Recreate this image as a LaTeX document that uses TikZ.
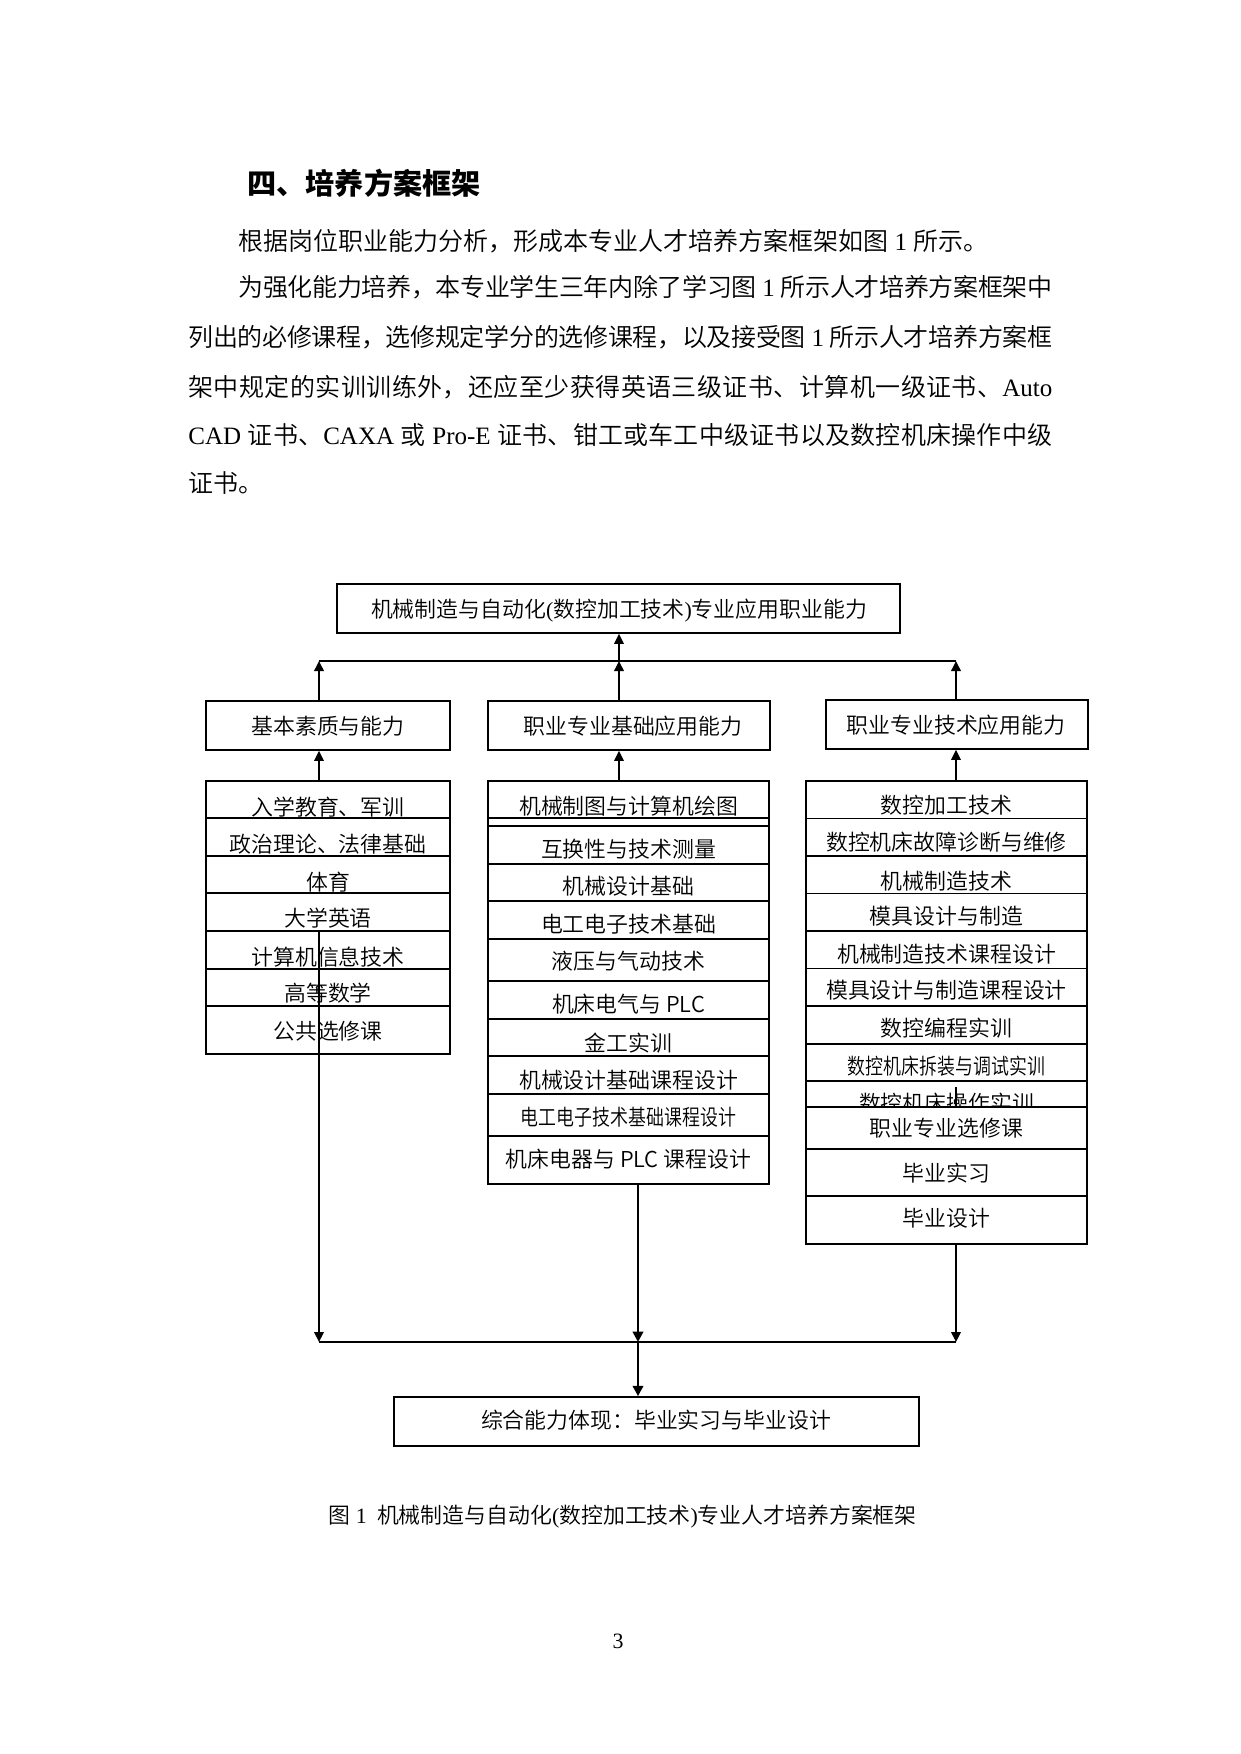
\documentclass[tikz,border=0pt]{standalone}
\usepackage{fontspec}
\usepackage{graphicx}
\IfFontExistsTF{Noto Sans CJK SC DemiLight}{\setmainfont{Noto Sans CJK SC DemiLight}}{\setmainfont{Noto Sans CJK SC}}
\newfontfamily\hdf{Noto Sans CJK SC}
\newfontfamily\latf{Liberation Serif}
\newcommand\la[1]{{\latf #1}}
\usetikzlibrary{arrows.meta}
% stretchable glue between CJK characters (for justified lines)
\XeTeXinterchartokenstate=1
\newXeTeXintercharclass\cjkcls
\newcount\cjkcnt
\cjkcnt="3000 \loop \XeTeXcharclass\cjkcnt=\cjkcls \advance\cjkcnt 1 \ifnum\cjkcnt<"3040 \repeat
\cjkcnt="4E00 \loop \XeTeXcharclass\cjkcnt=\cjkcls \advance\cjkcnt 1 \ifnum\cjkcnt<"A000 \repeat
\cjkcnt="FF00 \loop \XeTeXcharclass\cjkcnt=\cjkcls \advance\cjkcnt 1 \ifnum\cjkcnt<"FFF0 \repeat
\XeTeXinterchartoks\cjkcls\cjkcls={\hskip0pt plus 1pt minus 0.6pt\relax}
\newcommand\mkcell[6]{\node[#6, minimum width={(#4-#2)*0.48pt}, minimum height={(#5-#3)*0.48pt}] (#1) at ({(#2+#4)/2},{(#3+#5)/2}) {};}
\tikzset{
  cell/.style={draw, line width=0.8pt, inner sep=0pt},
  whitecell/.style={cell, fill=white},
  dtext/.style={font=\fontsize{10.5}{12}\selectfont, inner sep=0pt},
  bodytext/.style={font=\fontsize{12}{14}\selectfont, inner sep=0pt, anchor=west},
  arr/.style={line width=0.8pt, -{Triangle[length=4.8pt,width=4.6pt]}},
  thickarr/.style={line width=1.4pt, -{Triangle[length=5pt,width=5pt]}},
  conn/.style={line width=0.7pt},
}
\begin{document}
\begin{tikzpicture}[x=0.48pt,y=-0.48pt]
\fill[white] (0,0) rectangle (1241,1754);
\useasboundingbox (0,0) rectangle (1241,1754);

% ---------- text above ----------
\node[bodytext, font=\fontsize{14}{16}\selectfont\hdf\bfseries] (head) at (247,183) {四、培养方案框架};
\node[bodytext] (p1) at (238,241) {根据岗位职业能力分析，形成本专业人才培养方案框架如图\la{ 1 }所示。};
\node[bodytext] (p2) at (238,287) {\makebox[390.7pt][s]{为强化能力培养，本专业学生三年内除了学习图\la{ 1 }所示人才培养方案框架中}};
\node[bodytext] (p3) at (188,337) {\makebox[414.7pt][s]{列出的必修课程，选修规定学分的选修课程，以及接受图\la{ 1 }所示人才培养方案框}};
\node[bodytext] (p4) at (188,387) {\makebox[414.7pt][s]{架中规定的实训训练外，还应至少获得英语三级证书、计算机一级证书、\la{Auto}}};
\node[bodytext] (p5) at (188,435) {\makebox[414.7pt][s]{\la{CAD }证书、\la{CAXA }或\la{ Pro-E }证书、钳工或车工中级证书以及数控机床操作中级}};
\node[bodytext] (p6) at (188,483) {证书。};

% ---------- top box and title boxes ----------
\mkcell{top}{337}{584}{900}{633}{cell}
\node[dtext] (topt) at (619,611) {机械制造与自动化\la{(}数控加工技术\la{)}专业应用职业能力};

\mkcell{b1}{206}{701}{450}{750}{cell}
\node[dtext] (b1t) at (328,726) {基本素质与能力};
\mkcell{b2}{488}{701}{770}{750}{cell}
\node[dtext] (b2t) at (633,726) {职业专业基础应用能力};
\mkcell{b3}{826}{700}{1088}{749}{cell}
\node[dtext] (b3t) at (956,725) {职业专业技术应用能力};

% ---------- left list ----------
\mkcell{L1}{206}{781}{450}{818.3}{cell}
\mkcell{L2}{206}{818.3}{450}{855.7}{cell}
\mkcell{L3}{206}{855.7}{450}{893.3}{cell}
\mkcell{L4}{206}{893.3}{450}{931}{cell}
\mkcell{L5}{206}{931}{450}{968.7}{cell}
\mkcell{L6}{206}{968.7}{450}{1006}{cell}
\mkcell{L7}{206}{1006}{450}{1054.3}{cell}
\node[dtext] (L1t) at (328,806.7) {入学教育、军训};
\node[dtext] (L2t) at (328,844) {政治理论、法律基础};
\node[dtext] (L3t) at (328,881.7) {体育};
\node[dtext] (L4t) at (328,918.3) {大学英语};
\node[dtext] (L5t) at (328,956.7) {计算机信息技术};
\node[dtext] (L6t) at (328,993.3) {高等数学};
\node[dtext] (L7t) at (328,1031) {公共选修课};

% ---------- middle list ----------
\mkcell{Mbox}{488}{781}{769}{1184.3}{cell}
\mkcell{M1}{488}{781}{769}{818.3}{cell}
\mkcell{M2}{488}{825.7}{769}{864}{cell}
\mkcell{M3}{488}{864}{769}{901}{cell}
\mkcell{M4}{488}{901}{769}{938.7}{cell}
\mkcell{M5}{488}{938.7}{769}{980.7}{cell}
\mkcell{M6}{488}{980.7}{769}{1019}{cell}
\mkcell{M7}{488}{1019}{769}{1056}{cell}
\mkcell{M8}{488}{1056}{769}{1094.3}{cell}
\mkcell{M9}{488}{1094.3}{769}{1135.7}{cell}
\mkcell{M10}{488}{1135.7}{769}{1184.3}{cell}
\node[dtext] (M1t) at (628.5,806) {机械制图与计算机绘图};
\node[dtext] (M2t) at (628.5,849.3) {互换性与技术测量};
\node[dtext] (M3t) at (628.5,886) {机械设计基础};
\node[dtext] (M4t) at (628.5,924) {电工电子技术基础};
\node[dtext] (M5t) at (628.5,960.7) {液压与气动技术};
\node[dtext] (M6t) at (628.5,1004) {机床电气与 PLC};
\node[dtext] (M7t) at (628.5,1042.7) {金工实训};
\node[dtext] (M8t) at (628.5,1080) {机械设计基础课程设计};
\node[dtext] (M9t) at (628.5,1116.7) {\scalebox{0.82}[1]{电工电子技术基础课程设计}};
\node[dtext] (M10t) at (628.5,1159.3) {机床电器与 PLC 课程设计};

% ---------- right list ----------
\mkcell{R1}{806}{781}{1087}{818.6}{cell}
\mkcell{R2}{806}{818.6}{1087}{855.7}{cell}
\mkcell{R3}{806}{855.7}{1087}{893.6}{cell}
\mkcell{R4}{806}{893.6}{1087}{930.7}{cell}
\mkcell{R5}{806}{930.7}{1087}{968.6}{cell}
\mkcell{R6}{806}{968.6}{1087}{1005.7}{cell}
\mkcell{R7}{806}{1005.7}{1087}{1044.3}{cell}
\mkcell{R8}{806}{1044.3}{1087}{1080.7}{cell}
\mkcell{R9}{806}{1080.7}{1087}{1120}{cell}
\node[dtext] (R1t) at (946.5,805) {数控加工技术};
\node[dtext] (R2t) at (946.5,842.5) {数控机床故障诊断与维修};
\node[dtext] (R3t) at (946.5,880.7) {机械制造技术};
\node[dtext] (R4t) at (946.5,916.4) {模具设计与制造};
\node[dtext] (R5t) at (946.5,954.3) {机械制造技术课程设计};
\node[dtext] (R6t) at (946.5,990) {模具设计与制造课程设计};
\node[dtext] (R7t) at (946.5,1028) {数控编程实训};
\node[dtext] (R8t) at (946.5,1065.7) {\scalebox{0.82}[1]{数控机床拆装与调试实训}};
\node[dtext] (R9t) at (946.5,1103) {数控机床操作实训};

% ---------- bottom box ----------
\mkcell{bot}{394}{1397}{919}{1446}{cell}
\node[dtext] (bott) at (656,1420) {综合能力体现：毕业实习与毕业设计};

% ---------- connectors ----------
\coordinate (hL) at (319,661);
\coordinate (hM) at (619,661);
\coordinate (hR) at (956,661);
\coordinate (gL) at (319,1342);
\coordinate (gM) at (638,1342);
\coordinate (gR) at (956,1342);
\coordinate (rs) at (956,1087);

\draw[conn] (hL) -- (hR);
\draw[arr] (b1.north -| hL) -- (hL);
\draw[arr] (b2.north -| hM) -- (hM);
\draw[arr] (b3.north -| hR) -- (hR);
\draw[arr] (hM) -- (top.south -| hM);
\draw[arr] (L1.north -| hL) -- (b1.south -| hL);
\draw[arr] (M1.north -| hM) -- (b2.south -| hM);
\draw[arr] (R1.north -| hR) -- (b3.south -| hR);

\draw[conn] (gL) -- (gR);
\draw[arr] (L5.north -| gL) -- (gL);
\draw[thickarr] (M10.south -| gM) -- (gM);
\draw[thickarr] (gM) -- (bot.north -| gM);
\draw[arr] (rs) -- (gR);

% ---------- right list, lower part (white, covering) ----------
\mkcell{R10}{806}{1106.8}{1087}{1149}{whitecell}
\mkcell{R11}{806}{1149}{1087}{1196}{whitecell}
\mkcell{R12}{806}{1196}{1087}{1244.3}{whitecell}
\node[dtext] (R10t) at (946.5,1128) {职业专业选修课};
\node[dtext] (R11t) at (946.5,1173) {毕业实习};
\node[dtext] (R12t) at (946.5,1218) {毕业设计};

% ---------- caption and page number ----------
\node[dtext, anchor=west] (cap) at (328,1517) {图\la{ 1}\hspace{5pt}机械制造与自动化\la{(}数控加工技术\la{)}专业人才培养方案框架};
\node[font=\fontsize{10.5}{12}\selectfont\latf, inner sep=0pt] (pg) at (618,1641) {3};
\end{tikzpicture}
\end{document}
